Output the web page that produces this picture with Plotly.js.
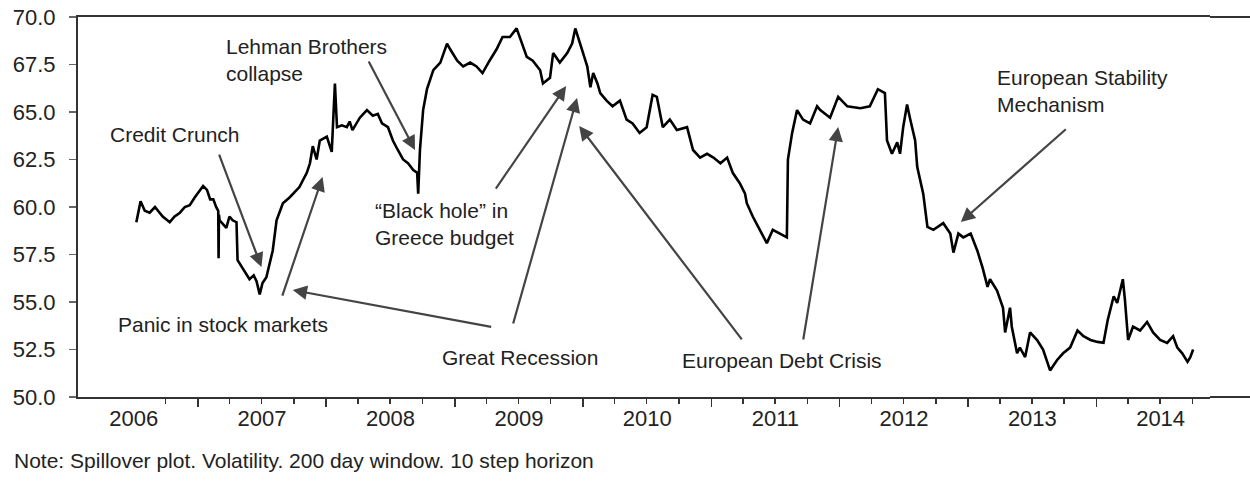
<!DOCTYPE html>
<html>
<head>
<meta charset="utf-8">
<script src="https://cdn.plot.ly/plotly-3.0.1.min.js"></script>
<style>html,body{margin:0;padding:0;background:#fff;}#chart{width:1250px;height:488px;}</style>
</head>
<body>
<div id="chart"></div>
<script>
// Spillover index (volatility, 200 day window, 10 step horizon)
const dates = [
"2006-07-10","2006-07-19","2006-07-22","2006-08-03","2006-08-17","2006-09-01","2006-09-23","2006-10-13","2006-10-27","2006-11-11",
"2006-11-25","2006-12-09","2006-12-23","2007-01-16","2007-01-27","2007-02-05","2007-02-14","2007-02-22","2007-02-28","2007-03-01",
"2007-03-02","2007-03-04","2007-03-23","2007-04-01","2007-04-10","2007-04-21","2007-04-24","2007-05-08","2007-05-19","2007-05-28",
"2007-06-09","2007-06-17","2007-06-26","2007-07-04","2007-07-15","2007-07-24","2007-08-02","2007-08-13","2007-08-22","2007-08-31",
"2007-09-19","2007-10-03","2007-10-17","2007-11-07","2007-11-16","2007-11-24","2007-12-05","2007-12-14","2008-01-03","2008-01-17",
"2008-01-20","2008-01-26","2008-02-01","2008-02-15","2008-02-29","2008-03-08","2008-03-16","2008-04-06","2008-04-26","2008-05-13",
"2008-05-27","2008-06-08","2008-06-25","2008-07-09","2008-07-23","2008-08-07","2008-08-21","2008-09-05","2008-09-16","2008-09-19",
"2008-09-24","2008-10-03","2008-10-14","2008-10-23","2008-11-01","2008-11-21","2008-12-10","2008-12-19","2009-01-08","2009-01-25",
"2009-02-14","2009-03-04","2009-03-21","2009-04-10","2009-04-30","2009-05-17","2009-06-07","2009-06-26","2009-07-05","2009-07-25",
"2009-08-11","2009-09-01","2009-09-09","2009-09-29","2009-10-08","2009-10-27","2009-11-17","2009-12-01","2009-12-10","2009-12-24",
"2010-01-02","2010-01-13","2010-01-22","2010-01-30","2010-02-11","2010-02-19","2010-03-09","2010-03-26","2010-04-16","2010-05-05",
"2010-05-22","2010-06-11","2010-07-01","2010-07-18","2010-07-30","2010-08-16","2010-09-05","2010-09-25","2010-10-24","2010-11-10",
"2010-11-30","2010-12-20","2011-01-07","2011-01-27","2011-02-15","2011-03-03","2011-03-23","2011-04-07","2011-04-12","2011-04-29",
"2011-05-19","2011-06-08","2011-06-25","2011-07-15","2011-08-04","2011-08-07","2011-08-19","2011-09-02","2011-09-19","2011-10-09",
"2011-10-29","2011-11-07","2011-12-05","2011-12-28","2012-01-23","2012-02-29","2012-03-27","2012-04-19","2012-05-09","2012-05-15",
"2012-05-29","2012-06-13","2012-06-21","2012-06-30","2012-07-11","2012-07-19","2012-08-03","2012-08-09","2012-08-26","2012-09-07",
"2012-09-24","2012-10-22","2012-11-11","2012-11-20","2012-12-04","2012-12-18","2013-01-08","2013-01-27","2013-02-11","2013-02-25",
"2013-03-04","2013-03-24","2013-04-10","2013-04-16","2013-04-24","2013-04-30","2013-05-05","2013-05-20","2013-05-28","2013-06-12",
"2013-06-26","2013-07-16","2013-08-02","2013-08-22","2013-09-11","2013-09-28","2013-10-18","2013-11-08","2013-11-25","2013-12-15",
"2014-01-04","2014-01-21","2014-02-02","2014-02-19","2014-03-01","2014-03-17","2014-03-23","2014-04-01","2014-04-15","2014-05-05",
"2014-05-25","2014-06-11","2014-07-01","2014-07-21","2014-08-07","2014-08-19","2014-09-02","2014-09-17","2014-09-25","2014-10-03"
];
const spillover = [
59.2,60.0,60.3,59.8,59.7,60.0,59.5,59.2,59.5,59.7,
60.0,60.1,60.5,61.1,60.9,60.4,60.4,60.0,59.8,57.3,
59.6,59.3,58.9,59.5,59.3,59.2,57.2,56.8,56.5,56.2,
56.4,56.1,55.4,56.0,56.3,57.0,57.7,59.3,59.8,60.2,
60.5,60.8,61.05,61.8,62.3,63.2,62.5,63.5,63.7,62.9,
63.9,66.5,64.2,64.3,64.2,64.5,64.05,64.7,65.1,64.8,
64.9,64.4,64.2,63.5,63.0,62.5,62.3,61.95,61.8,60.7,
63.0,65.1,66.2,66.7,67.2,67.6,68.6,68.3,67.7,67.4,
67.6,67.4,67.05,67.7,68.3,68.95,68.95,69.4,68.95,67.9,
67.7,67.2,66.5,66.8,68.1,67.6,68.1,68.6,69.4,68.6,
68.1,67.4,66.3,67.05,66.5,66.0,65.6,65.3,65.6,64.6,
64.4,63.9,64.2,65.9,65.8,64.2,64.6,64.05,64.2,63.0,
62.6,62.8,62.6,62.3,62.6,61.8,61.25,60.7,60.2,59.5,
58.8,58.1,58.8,58.6,58.4,62.5,63.9,65.1,64.6,64.4,
65.3,65.1,64.7,65.8,65.3,65.2,65.3,66.2,66.0,63.5,
62.8,63.4,62.8,64.2,65.4,64.7,63.5,62.1,60.7,58.95,
58.8,59.15,58.6,57.6,58.6,58.4,58.6,57.7,56.8,55.8,
56.2,55.6,54.7,53.4,54.2,54.7,53.7,52.3,52.6,52.1,
53.4,53.0,52.5,51.4,51.95,52.3,52.6,53.5,53.2,53.0,
52.9,52.85,54.05,55.3,54.95,56.2,55.1,53.0,53.7,53.5,
53.95,53.4,53.0,52.85,53.2,52.6,52.3,51.85,52.1,52.5
];

// Axis ticks / labels
const yTicks = [50, 52.5, 55, 57.5, 60, 62.5, 65, 67.5, 70];
const quarterTicks = [
"2006-10-01",
"2007-04-01","2007-07-01","2007-10-01",
"2008-04-01","2008-07-01","2008-10-01",
"2009-04-01","2009-07-01","2009-10-01",
"2010-04-01","2010-07-01","2010-10-01",
"2011-04-01","2011-07-01","2011-10-01",
"2012-04-01","2012-07-01","2012-10-01",
"2013-04-01","2013-07-01","2013-10-01",
"2014-04-01","2014-07-01","2014-10-01"
];
const noteText = "Note: Spillover plot. Volatility. 200 day window. 10 step horizon";

// Event labels
const eventLabels = [
  "Lehman Brothers<br>collapse",
  "Credit Crunch",
  "Panic in stock markets",
  "\u201cBlack hole\u201d in<br>Greece budget",
  "Great Recession",
  "European Debt Crisis",
  "European Stability<br>Mechanism"
];
const eventLabelX = [0.129, 0.0265, 0.0335, 0.2606, 0.3198, 0.5318, 0.810];
const eventLabelY = [0.888, 0.6895, 0.192, 0.455, 0.105, 0.097, 0.805];

// Arrows: tail -> tip in data coordinates
const arrowTipX  = ["2008-09-10","2007-07-01","2007-12-22","2007-09-28","2009-12-15","2009-11-14","2009-12-21","2011-12-28","2012-12-11"];
const arrowTipY  = [63.0, 56.84, 61.58, 55.63, 65.74, 66.37, 64.26, 64.21, 59.21];
const arrowTailX = ["2008-04-29","2007-03-01","2007-08-28","2009-04-19","2009-06-15","2009-04-25","2011-04-01","2011-09-19","2013-10-10"];
const arrowTailY = [67.74, 62.84, 55.26, 53.68, 53.79, 60.89, 52.95, 52.95, 64.16];

const FONT = "'Liberation Sans', Arial, Helvetica, sans-serif";
const annotations = [];
eventLabels.forEach((t, i) => {
  annotations.push({
    text: t, xref: 'paper', yref: 'paper', x: eventLabelX[i], y: eventLabelY[i],
    xanchor: 'left', yanchor: 'middle', align: 'left', showarrow: false,
    font: {family: FONT, size: 21, color: '#222'}
  });
});
arrowTipX.forEach((x, i) => {
  annotations.push({
    text: '', x: x, y: arrowTipY[i], xref: 'x', yref: 'y',
    ax: arrowTailX[i], ay: arrowTailY[i], axref: 'x', ayref: 'y',
    showarrow: true, arrowhead: 2, arrowsize: 1.3, arrowwidth: 2.2, arrowcolor: '#444',
    standoff: 0, startstandoff: 0
  });
});
annotations.push({
  text: noteText, xref: 'paper', yref: 'paper', x: -0.0583, y: -0.168,
  xanchor: 'left', yanchor: 'middle', showarrow: false,
  font: {family: FONT, size: 21, color: '#222'}
});

const trace = {
  x: dates, y: spillover, type: 'scatter', mode: 'lines',
  line: {color: '#000', width: 2.6, shape: 'linear'}, hoverinfo: 'skip'
};

const layout = {
  width: 1250, height: 488,
  margin: {l: 78, r: 40, t: 17, b: 91, pad: 0},
  paper_bgcolor: '#fff', plot_bgcolor: '#fff',
  showlegend: false,
  font: {family: FONT, size: 20, color: '#222'},
  xaxis: {
    type: 'date', range: ['2006-01-25', '2014-11-20'],
    tick0: '2006-01-01', dtick: 'M12', tickformat: '%Y', ticklabelmode: 'period',
    ticks: 'outside', ticklen: 8, tickwidth: 1.5, tickcolor: '#333',
    ticklabelstandoff: -7,
    showgrid: false, zeroline: false,
    showline: true, linecolor: '#333', linewidth: 2, mirror: true,
    tickfont: {family: FONT, size: 22, color: '#222'},
    minor: {tickmode: 'array', tickvals: quarterTicks, ticks: 'outside', ticklen: 5, tickwidth: 1.5, tickcolor: '#333', showgrid: false}
  },
  yaxis: {
    range: [50, 70], tickmode: 'array', tickvals: yTicks, tickformat: '.1f',
    ticks: 'outside', ticklen: 7, tickwidth: 1.5, tickcolor: '#666',
    ticklabelstandoff: 9,
    showgrid: false, zeroline: false,
    showline: true, linecolor: '#333', linewidth: 2, mirror: false,
    tickfont: {family: FONT, size: 22, color: '#222'}
  },
  shapes: [
    {type: 'line', xref: 'paper', yref: 'paper', x0: 1, x1: 1.04, y0: 0, y1: 0, line: {color: '#333', width: 2}},
    {type: 'line', xref: 'paper', yref: 'paper', x0: 1, x1: 1.04, y0: 1, y1: 1, line: {color: '#333', width: 2}}
  ],
  annotations: annotations
};

Plotly.newPlot('chart', [trace], layout, {displayModeBar: false, staticPlot: true});
</script>
</body>
</html>
